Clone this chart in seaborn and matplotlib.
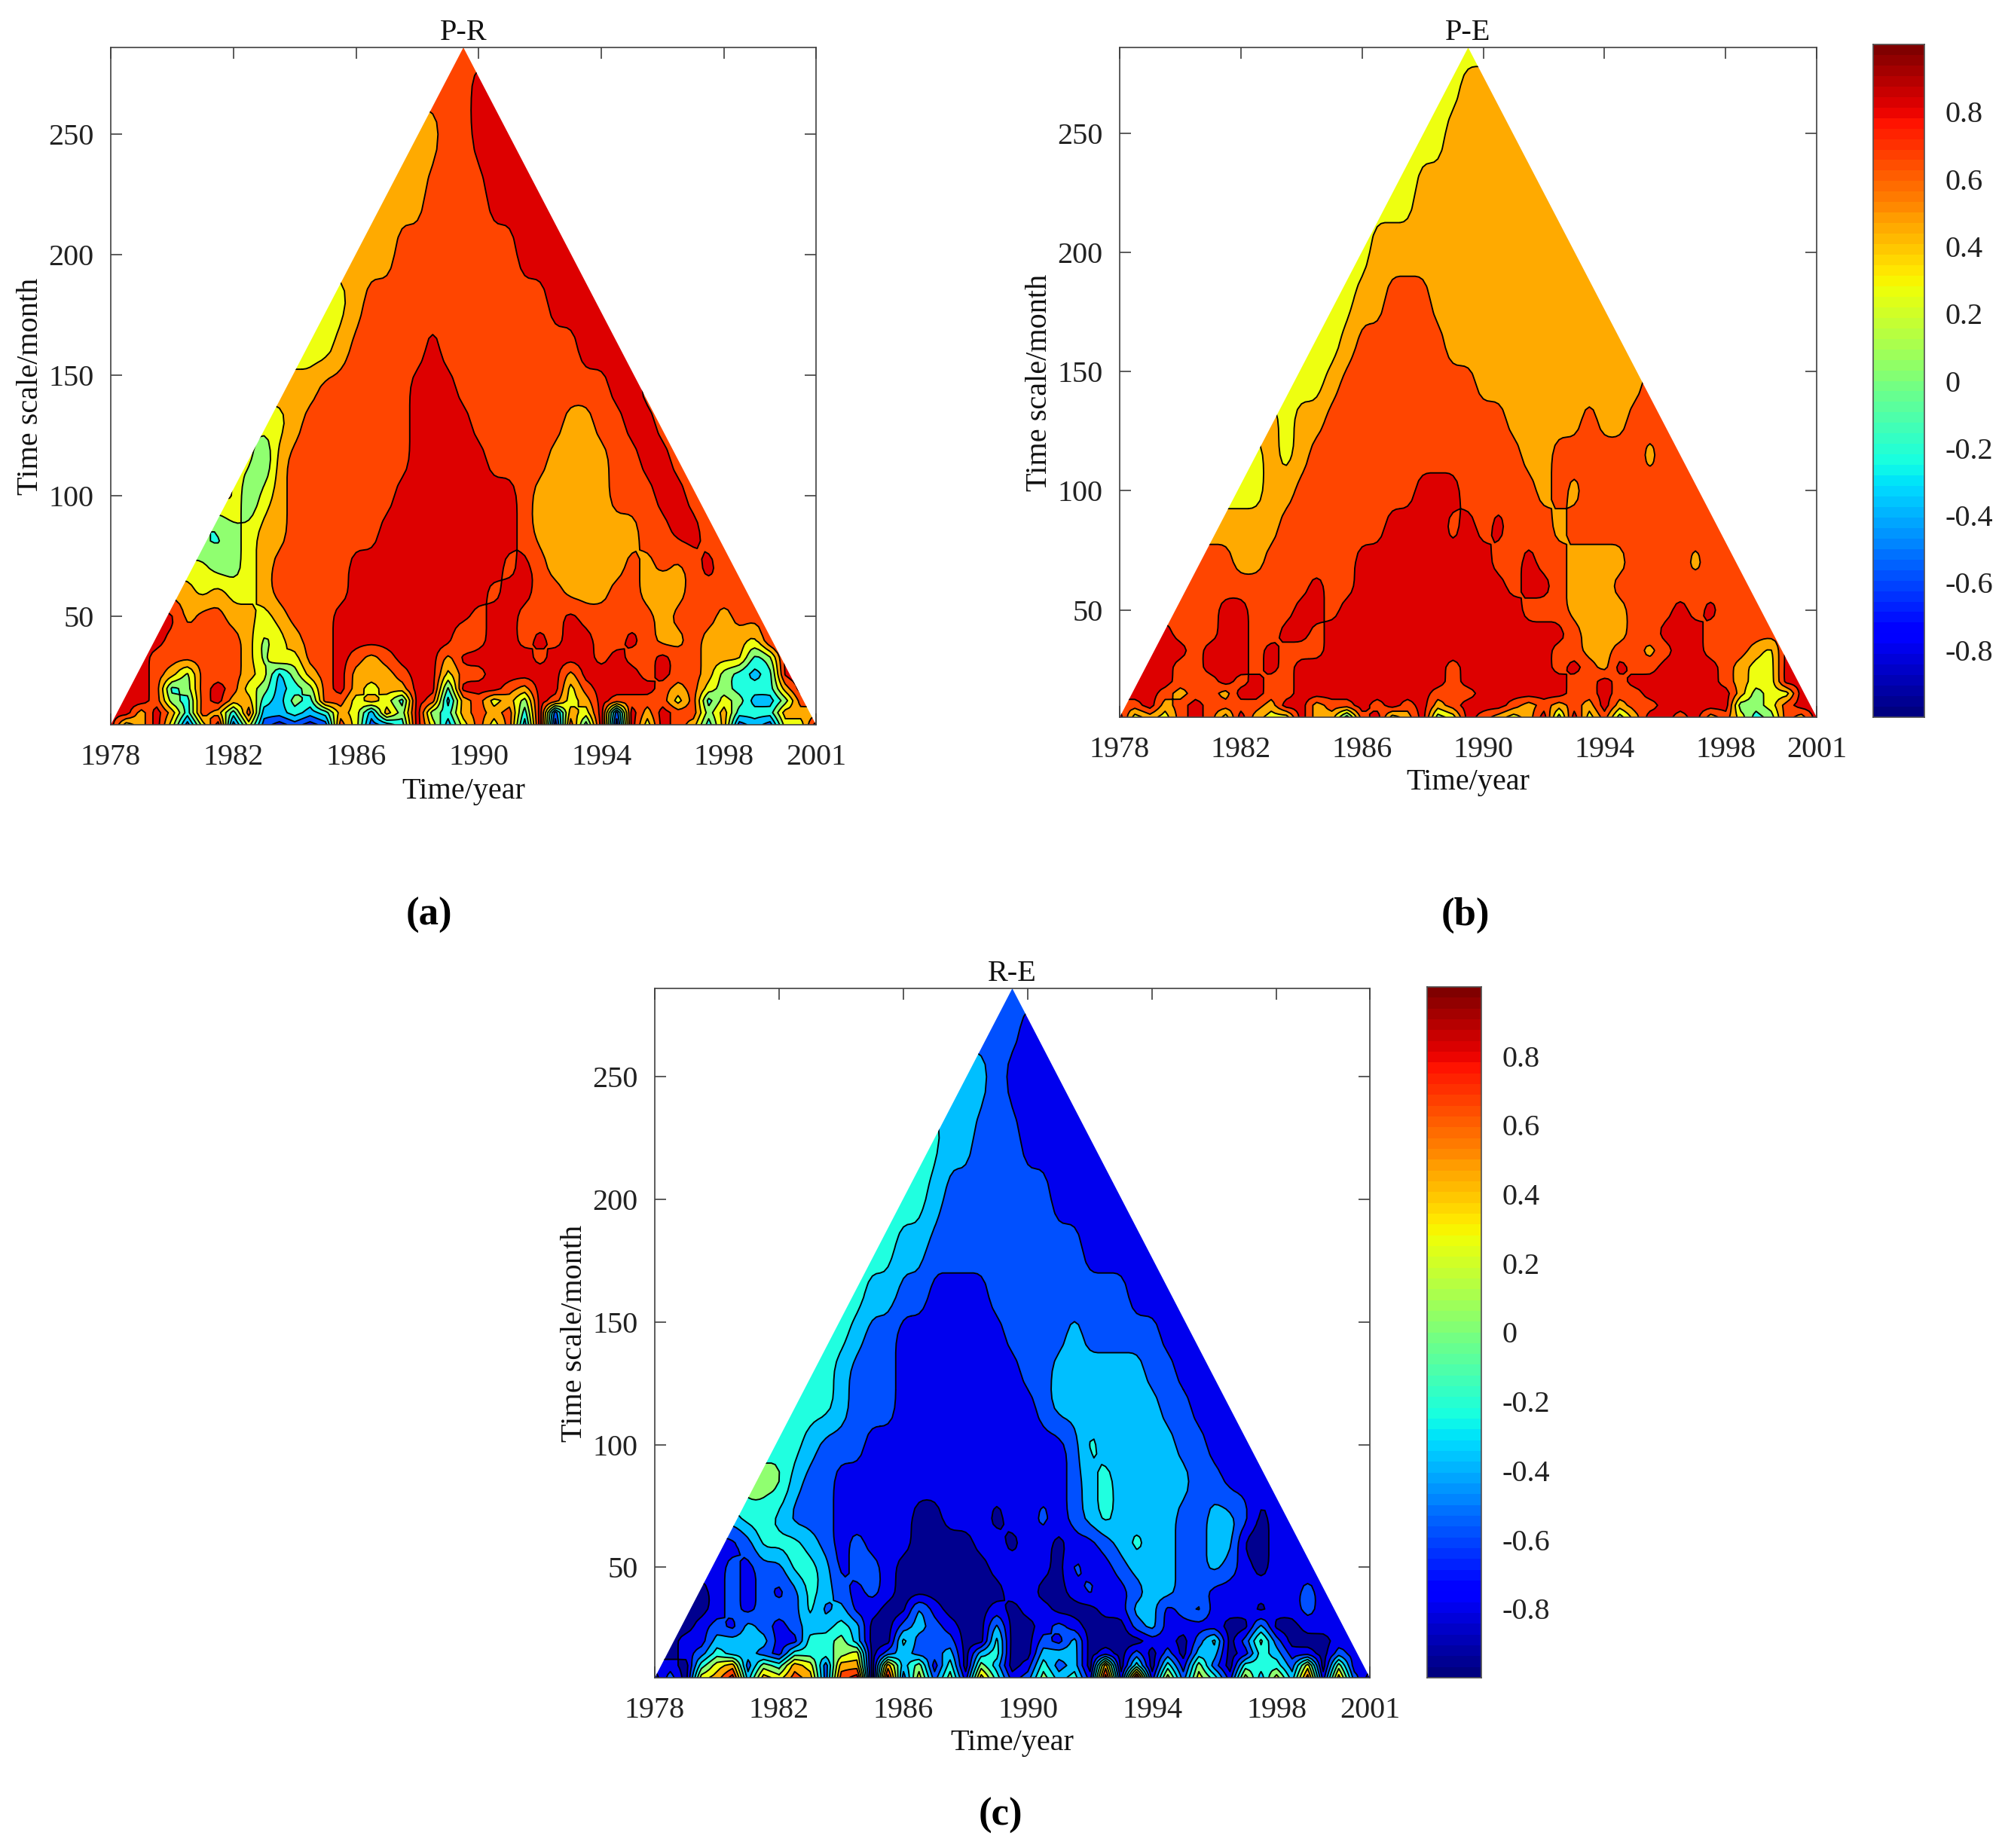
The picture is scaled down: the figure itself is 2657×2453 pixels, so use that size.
import numpy as np
import matplotlib
matplotlib.use("Agg")
import matplotlib.pyplot as plt
from matplotlib.patches import Polygon
import seaborn as sns

SCALES = [5, 10, 15, 20, 26, 33, 40, 50, 60, 70, 85, 100, 115, 130, 145, 160, 180, 200, 225, 250, 270, 286]
YEAR_TICKS = [1978, 1982, 1986, 1990, 1994, 1998, 2001]
SCALE_TICKS = [50, 100, 150, 200, 250]
CBAR_TICKS = [0.8, 0.6, 0.4, 0.2, 0, -0.2, -0.4, -0.6, -0.8]
CBAR_LABELS = ["0.8", "0.6", "0.4", "0.2", "0", "-0.2", "-0.4", "-0.6", "-0.8"]
BANDS = ["#00008f", "#0000ee", "#0050ff", "#00bfff", "#20ffe0", "#90ff70", "#eeff10", "#ffaa00", "#ff4500", "#dd0000"]

# correlation x 10, one list per time scale, bottom row first, centred on the apex
PR = [
 [9,3,5,9,3,-5,3,9,-5,3,-5,-7,-5,-7,-5,7,3,-5,-3,-1,9,3,-3,3,7,3,7,-3,9,-7,7,-1,9,-7,9,3,9,7,5,-1,5,-5,-3,-5,3,3,9],
 [9,5,9,5,-1,7,5,-1,7,-3,-3,-1,-3,-1,5,3,-3,5,1,9,1,-1,5,7,5,7,-1,9,-5,5,3,9,-5,9,5,9,7,7,1,5,-1,-1,-1,5,5],
 [9,9,7,1,-1,7,9,5,5,-1,-3,1,-1,7,7,3,5,3,-1,9,7,-3,5,7,3,5,1,9,7,3,5,9,7,7,7,7,3,7,-1,3,1,-3,-3,1,7],
 [9,9,7,-1,1,7,9,7,3,1,-3,-1,1,7,9,5,3,5,5,9,9,-1,9,9,9,7,5,9,9,3,7,9,9,9,9,7,5,7,3,1,-1,-1,-1,5,9],
 [9,7,5,1,7,7,7,5,3,-3,1,5,7,9,5,5,5,7,9,9,3,7,7,9,9,9,9,9,5,9,9,9,9,7,9,7,7,5,1,-1,-3,-1,9],
 [9,7,7,7,7,7,7,5,1,5,3,7,7,9,7,5,7,9,9,9,5,9,9,9,9,9,7,9,9,9,7,9,7,7,9,7,7,5,5,5,-1,1,9],
 [9,7,7,7,7,7,5,1,3,5,7,7,9,9,9,9,9,9,9,9,5,7,9,9,7,9,7,9,9,7,7,9,7,5,5,7,5,5,5,3,9],
 [9,5,7,7,5,5,3,5,7,7,7,9,9,9,9,9,9,9,9,9,7,9,9,7,7,7,9,7,7,7,7,7,5,7,7,7,5,7,7],
 [5,3,5,3,3,5,7,7,7,7,7,9,9,9,9,9,9,9,9,9,7,9,9,7,7,5,5,5,7,7,5,3,5,7,7,7,7],
 [3,1,1,3,5,7,7,7,7,7,9,9,9,9,9,9,9,9,9,9,7,9,7,5,5,5,5,5,7,5,7,5,7,9,7],
 [-1,1,3,5,5,7,7,7,7,7,7,9,9,9,9,9,9,9,9,9,7,5,5,5,5,5,5,5,7,7,9,9,7],
 [5,-1,3,5,7,7,7,7,7,7,7,9,9,9,9,9,9,9,9,7,5,5,5,5,5,7,7,7,9,9,7],
 [3,-1,5,7,7,7,7,7,7,7,7,9,9,9,9,9,7,7,7,7,5,5,5,5,7,7,9,9,7],
 [3,3,5,7,7,7,7,7,7,7,9,9,9,9,7,7,7,7,7,7,5,5,7,7,9,9,7],
 [5,5,5,7,7,7,7,7,7,9,9,9,7,7,7,7,7,7,7,7,7,7,9,9,7],
 [3,3,5,7,7,7,7,7,9,7,7,7,7,7,7,7,7,7,9,9,9],
 [3,3,5,7,7,7,7,7,7,7,7,7,7,7,7,9,9,9,9],
 [5,5,5,7,7,7,7,7,7,7,7,9,9,9,9],
 [5,5,5,7,7,7,7,9,9,9,9],
 [5,5,7,7,9,9,9],
 [7,7,9],
 [7],
]
PE = [
 [9,3,5,3,7,9,7,3,9,5,3,3,9,5,5,-1,7,9,3,5,9,1,3,9,7,5,3,5,9,1,9,3,7,1,5,9,9,7,9,5,7,3,-1,1,7,5,9],
 [7,9,5,7,9,7,7,7,7,5,9,9,5,7,7,9,7,9,7,9,5,7,9,9,9,7,5,7,5,7,5,9,5,7,7,9,9,9,9,9,1,1,3,7,9],
 [9,9,7,5,7,7,5,9,9,7,7,9,9,9,9,9,9,9,9,9,7,7,7,9,9,9,9,9,9,7,7,9,7,7,9,9,9,9,9,9,5,1,3,3,9],
 [9,9,9,7,7,7,9,7,9,7,7,9,9,9,9,9,9,9,9,9,9,7,9,9,9,9,9,9,9,7,7,9,7,9,9,9,9,9,9,7,5,3,3,9,9],
 [9,9,7,7,9,9,9,7,9,7,9,9,9,9,9,9,9,9,9,9,7,9,9,9,9,9,9,7,9,7,5,9,7,7,9,9,9,9,7,5,3,3,9],
 [9,9,9,7,9,9,9,7,9,7,7,7,9,9,9,9,9,9,9,9,9,9,9,9,9,9,9,7,7,5,5,7,7,5,7,9,9,7,7,7,5,3,9],
 [9,7,7,7,9,9,7,7,9,9,7,9,9,9,9,9,9,9,9,9,9,9,9,9,9,9,9,7,5,5,5,7,7,9,9,9,7,7,7,7,7],
 [7,7,7,9,9,7,7,7,9,9,7,9,9,9,9,9,9,9,9,9,9,9,9,7,7,7,5,5,5,5,7,7,7,9,7,9,7,7,7],
 [7,7,7,7,7,7,7,7,9,7,7,9,9,9,9,9,9,9,9,9,9,7,9,9,7,5,5,5,7,7,7,7,7,7,7,7,7],
 [7,7,5,5,7,7,7,7,7,7,9,9,9,9,9,9,9,9,9,7,7,9,7,7,5,5,5,5,7,7,7,7,5,7,7],
 [5,5,5,5,7,7,7,7,7,7,7,9,9,9,9,7,9,7,9,7,7,7,5,7,7,7,7,7,7,7,7,7,7],
 [3,3,5,5,7,7,7,7,7,7,7,7,9,9,9,7,7,7,7,7,5,7,5,7,7,7,7,7,7,7,7],
 [3,5,3,5,7,7,7,7,7,7,7,7,7,7,7,7,7,7,5,5,7,7,7,7,7,7,5,7,7],
 [5,3,5,5,7,7,7,7,7,7,7,7,7,7,7,7,5,5,5,5,5,7,5,5,7,7,7],
 [3,3,3,5,7,7,7,7,7,7,7,7,7,5,5,5,5,5,5,5,5,5,5,5,7],
 [3,3,5,7,7,7,7,7,7,5,5,5,5,5,5,5,5,5,5,5,5],
 [3,3,5,5,7,7,7,5,5,5,5,5,5,5,5,5,5,5,5],
 [3,5,5,5,5,5,5,5,5,5,5,5,5,5,5],
 [3,3,5,5,5,5,5,5,5,5,5],
 [3,3,5,5,5,5,5],
 [3,5,5],
 [3],
]
RE = [
 [-9,-5,-9,3,5,9,-3,5,3,7,5,-5,7,9,-9,9,-5,3,-5,1,-7,5,-1,-7,-5,1,-3,-1,-7,9,-7,9,-7,3,-5,3,-1,-7,3,-3,3,-3,7,-7,5,-5,-9],
 [-7,-9,-1,3,5,-5,1,-1,5,3,-5,5,5,-9,5,-3,1,-7,-1,-9,1,-3,-9,-7,-1,-5,-3,-9,5,-9,-1,-9,-1,-7,1,-5,-9,-1,-1,-1,-5,3,-9,1,-7],
 [-9,-7,-5,-1,-3,-3,-5,-7,-1,-1,-1,1,3,-9,-5,-3,-5,-5,-3,-9,-3,-1,-9,-9,-3,-3,-3,-9,-7,-9,-5,-9,-5,-9,-3,-3,-9,-7,-1,-3,-7,-7,-9,-5,-7],
 [-9,-7,-7,-3,-3,-3,-3,-7,-7,-1,-1,1,-3,-9,-9,-1,-5,-5,-5,-9,-9,-1,-9,-9,-5,-7,-3,-9,-9,-9,-9,-7,-7,-9,-5,-1,-9,-5,1,-5,-9,-9,-9,-7,-7],
 [-9,-7,-5,-7,-3,-5,-7,-5,-3,-3,-1,-3,-9,-9,-5,-3,-5,-7,-9,-9,-3,-9,-9,-7,-5,-7,-9,-9,-9,-5,-3,-7,-7,-7,-7,-9,-9,-3,-9,-9,-7,-7,-7],
 [-9,-9,-7,-5,-7,-5,-5,-5,-1,-5,-3,-7,-7,-9,-9,-3,-7,-9,-9,-9,-7,-9,-7,-7,-9,-9,-9,-7,-7,-3,-3,-7,-5,-3,-7,-7,-7,-9,-7,-7,-5,-7,-7],
 [-9,-7,-5,-7,-5,-7,-5,-1,-3,-5,-7,-5,-7,-9,-9,-9,-9,-9,-9,-9,-7,-7,-9,-9,-7,-5,-7,-7,-5,-3,-3,-5,-5,-7,-7,-7,-7,-7,-7,-5,-7],
 [-7,-5,-7,-5,-5,-1,-1,-3,-7,-5,-5,-7,-9,-9,-9,-9,-9,-9,-7,-7,-7,-7,-9,-5,-7,-7,-5,-3,-3,-3,-5,-5,-3,-5,-7,-9,-7,-7,-7],
 [-7,-5,-1,-1,-1,-3,-5,-7,-5,-7,-7,-7,-9,-9,-9,-9,-7,-7,-9,-7,-7,-9,-7,-7,-5,-3,-1,-3,-3,-5,-5,-3,-3,-9,-9,-7,-7],
 [-3,-1,-1,-3,-5,-5,-5,-7,-7,-7,-7,-7,-9,-9,-7,-7,-7,-9,-7,-7,-5,-7,-5,-3,-1,-3,-3,-3,-3,-5,-5,-3,-3,-5,-9,-7],
 [1,1,-3,-5,-5,-7,-7,-7,-7,-7,-7,-7,-7,-7,-7,-7,-7,-7,-7,-7,-5,-3,-1,-3,-3,-3,-3,-3,-5,-5,-7,-7,-7],
 [-1,-1,-3,-5,-5,-5,-7,-7,-7,-7,-7,-7,-7,-7,-7,-7,-7,-7,-7,-5,-1,-3,-3,-3,-3,-3,-5,-5,-7,-7,-7],
 [-1,-1,-1,-3,-5,-5,-5,-7,-7,-7,-7,-7,-7,-7,-7,-7,-5,-3,-3,-3,-3,-3,-3,-3,-5,-5,-7,-7,-7],
 [-1,-1,-3,-5,-5,-5,-7,-7,-7,-7,-7,-7,-7,-7,-5,-5,-3,-3,-3,-3,-3,-3,-5,-5,-7,-7,-7],
 [-1,-1,-3,-5,-5,-7,-7,-7,-7,-7,-7,-7,-5,-5,-5,-5,-3,-5,-5,-5,-5,-5,-7,-7,-7],
 [-1,-3,-3,-5,-5,-7,-7,-7,-7,-5,-5,-5,-5,-5,-5,-5,-5,-5,-7,-7,-7],
 [-1,-1,-3,-3,-5,-5,-5,-5,-5,-5,-5,-5,-5,-5,-7,-7,-7,-7,-7],
 [-1,-1,-3,-5,-5,-5,-5,-5,-5,-5,-7,-7,-7,-7,-7],
 [-1,-3,-3,-5,-5,-5,-7,-7,-7,-7,-7],
 [-3,-3,-5,-7,-7,-7,-7],
 [-5,-5,-7],
 [-5],
]

W, H = 2657, 2453
DPI = 100
sns.set_theme(style="ticks")
plt.rcParams["font.family"] = ["Liberation Serif", "DejaVu Serif"]
plt.rcParams["axes.edgecolor"] = "#404040"
plt.rcParams["axes.linewidth"] = 1.2
TICK_FS = 29
X0, X1 = 1978, 2001
Y0, Y1 = 5, 286
XMID = (X0 + X1) / 2
NCOL = 47
FINE = 4


def grid(rows):
    out = []
    for r in rows:
        n = len(r)
        left = (NCOL - n) // 2
        right = NCOL - n - left
        out.append([r[0]] * left + list(r) + [r[-1]] * right)
    return np.array(out, dtype=float) / 10


def fine_index(n):
    return np.linspace(0, n - 1, (n - 1) * FINE + 1)


def refine(a, axis):
    a = np.moveaxis(a, axis, 0)
    idx = np.arange(a.shape[0])
    fine = fine_index(a.shape[0])
    out = np.array([np.interp(fine, idx, col) for col in a.T]).T
    return np.moveaxis(out, 0, axis)


def soften(a, passes=2):
    k = np.ones(3) / 3
    for _ in range(passes):
        p = np.pad(a, 1, mode="edge")
        p = np.apply_along_axis(lambda v: np.convolve(v, k, mode="same"), 0, p)
        p = np.apply_along_axis(lambda v: np.convolve(v, k, mode="same"), 1, p)
        a = p[1:-1, 1:-1]
    return a


def add_axes(box):
    l, t, r, b = box
    return fig.add_axes([l / W, 1 - b / H, (r - l) / W, (b - t) / H])


def panel(box, rows, title, xlab_pad):
    ax = add_axes(box)
    xs = np.linspace(X0, X1, (NCOL - 1) * FINE + 1)
    ys = np.interp(fine_index(len(SCALES)), np.arange(len(SCALES)), SCALES)
    sharp = refine(refine(grid(rows), 0), 1)
    weight = np.clip((ys - 10) / 30, 0, 1)[:, None]
    Z = weight * soften(sharp) + (1 - weight) * sharp
    levels = np.linspace(-1, 1, 11)
    tri = Polygon([(X0, Y0), (XMID, Y1), (X1, Y0)], closed=True, transform=ax.transData,
                  facecolor="none", edgecolor="none")
    ax.add_patch(tri)
    cf = ax.contourf(xs, ys, Z, levels=levels, colors=BANDS)
    cl = ax.contour(xs, ys, Z, levels=levels[1:-1], colors="black", linewidths=1.35,
                    negative_linestyles="solid")
    cf.set_clip_path(tri)
    cl.set_clip_path(tri)
    ax.set_xlim(X0, X1)
    ax.set_ylim(Y0, Y1)
    ax.set_xticks(YEAR_TICKS)
    ax.set_yticks(SCALE_TICKS)
    ax.tick_params(direction="in", top=True, right=True, length=11, width=1.2, color="#404040",
                   labelsize=TICK_FS, labelcolor="#222222")
    ax.tick_params(axis="x", pad=18)
    ax.tick_params(axis="y", pad=16)
    ax.set_title(title, fontsize=TICK_FS, pad=7, color="#111111")
    ax.set_xlabel("Time/year", fontsize=TICK_FS, labelpad=xlab_pad, color="#111111")
    ax.set_ylabel("Time scale/month", fontsize=TICK_FS, labelpad=4, color="#111111")
    return ax


def colorbar(box):
    ax = add_axes(box)
    n = 64
    vals = np.linspace(1, -1, n).reshape(-1, 1)
    sns.heatmap(vals, ax=ax, cmap="jet", vmin=-1, vmax=1, cbar=False, xticklabels=False, yticklabels=False)
    ax.yaxis.tick_right()
    ax.set_yticks([(1 - v) / 2 * n for v in CBAR_TICKS])
    ax.set_yticklabels(CBAR_LABELS, rotation=0)
    ax.tick_params(axis="y", direction="in", length=8, width=1.2, color="#303030", labelsize=TICK_FS,
                   labelcolor="#222222", pad=20, left=False, right=True)
    for s in ax.spines.values():
        s.set_visible(True)
        s.set_color("#505050")
        s.set_linewidth(1.2)


fig = plt.figure(figsize=(W / DPI, H / DPI), dpi=DPI, facecolor="white")
panel((147, 63, 1083, 962), PR, "P-R", 6)
panel((1486, 63, 2411, 952), PE, "P-E", 4)
panel((869, 1312, 1818, 2227), RE, "R-E", 4)
colorbar((2486, 59, 2554, 952))
colorbar((1894, 1310, 1966, 2227))
for px, py, s in [(569, 1215, "(a)"), (1945, 1215, "(b)"), (1328, 2410, "(c)")]:
    fig.text(px / W, 1 - py / H, s, ha="center", va="center", fontsize=38, fontweight="bold", color="black")
fig.savefig("out.png", dpi=DPI, facecolor="white")
